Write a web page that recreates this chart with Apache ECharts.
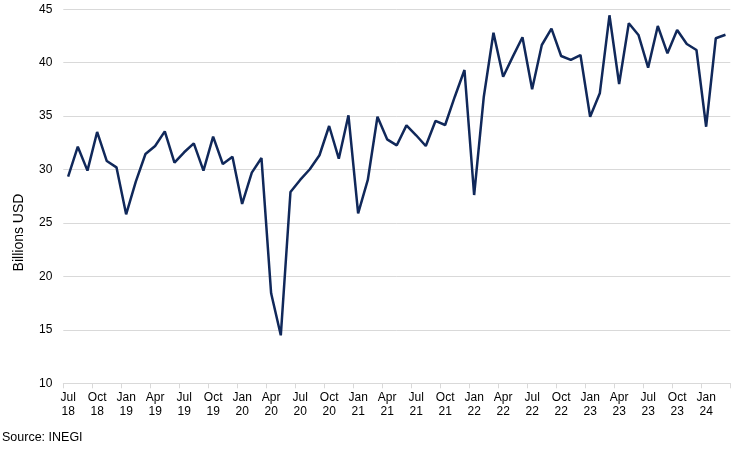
<!DOCTYPE html>
<html>
<head>
<meta charset="utf-8">
<script src="https://cdn.jsdelivr.net/npm/echarts@6/dist/echarts.min.js"></script>
<style>
html,body{margin:0;padding:0;background:#fff;}
#c{width:740px;height:453px;}
</style>
</head>
<body>
<div id="c"></div>
<script>
const categories = [
 "Jul 18","Aug 18","Sep 18","Oct 18","Nov 18","Dec 18",
 "Jan 19","Feb 19","Mar 19","Apr 19","May 19","Jun 19","Jul 19","Aug 19","Sep 19","Oct 19","Nov 19","Dec 19",
 "Jan 20","Feb 20","Mar 20","Apr 20","May 20","Jun 20","Jul 20","Aug 20","Sep 20","Oct 20","Nov 20","Dec 20",
 "Jan 21","Feb 21","Mar 21","Apr 21","May 21","Jun 21","Jul 21","Aug 21","Sep 21","Oct 21","Nov 21","Dec 21",
 "Jan 22","Feb 22","Mar 22","Apr 22","May 22","Jun 22","Jul 22","Aug 22","Sep 22","Oct 22","Nov 22","Dec 22",
 "Jan 23","Feb 23","Mar 23","Apr 23","May 23","Jun 23","Jul 23","Aug 23","Sep 23","Oct 23","Nov 23","Dec 23",
 "Jan 24","Feb 24","Mar 24"
];
const exportsBn = [
 29.34,32.14,29.9,33.52,30.8,30.21,
 25.81,28.87,31.46,32.21,33.58,30.65,31.62,32.46,29.9,33.08,30.52,31.21,
 26.78,29.71,31.08,18.42,14.49,27.9,29.03,30.03,31.34,34.08,31.02,35.08,
 25.91,29.03,34.95,32.83,32.27,34.14,33.21,32.21,34.55,34.17,36.82,39.32,
 27.62,36.82,42.81,38.69,40.57,42.38,37.51,41.66,43.19,40.63,40.26,40.72,
 34.95,37.14,44.44,38.01,43.69,42.6,39.54,43.44,40.88,43.06,41.75,41.19,
 34.01,42.29,42.62
];
const yTicks = {min: 10, max: 45, step: 5};
const yTitle = "Billions USD";
const sourceText = "Source: INEGI";

const chart = echarts.init(document.getElementById('c'), null, {renderer: 'canvas'});
const font = 'Liberation Sans, Arial, sans-serif';
chart.setOption({
  animation: false,
  backgroundColor: '#fff',
  grid: {left: 63.3, right: 9.7, top: 9.3, bottom: 69.7, containLabel: false},
  graphic: [{
    type: 'text', left: 2, top: 431,
    style: {text: sourceText, fill: '#000', font: '12.5px ' + font}
  }, {
    type: 'text', x: 19, y: 232.5, rotation: Math.PI / 2,
    style: {text: yTitle, fill: '#000', font: '14px ' + font, align: 'center', verticalAlign: 'middle'}
  }],
  xAxis: {
    type: 'category',
    data: categories,
    boundaryGap: true,
    axisLine: {show: true, lineStyle: {color: '#d9d9d9', width: 1}},
    axisTick: {show: true, interval: 2, length: 5, lineStyle: {color: '#d9d9d9'}},
    axisLabel: {
      interval: 2,
      color: '#000',
      fontFamily: font,
      fontSize: 12,
      lineHeight: 14,
      margin: 7,
      formatter: v => v.replace(' ', '\n')
    },
    splitLine: {show: false}
  },
  yAxis: {
    type: 'value',
    min: yTicks.min, max: yTicks.max, interval: yTicks.step,
    axisLine: {show: false},
    axisTick: {show: false},
    axisLabel: {color: '#000', fontFamily: font, fontSize: 12, margin: 11},
    splitLine: {lineStyle: {color: '#d9d9d9', width: 1}}
  },
  series: [{
    type: 'line',
    data: exportsBn,
    symbol: 'none',
    lineStyle: {color: '#10285a', width: 2.5},
    itemStyle: {color: '#10285a'}
  }]
});
</script>
</body>
</html>
